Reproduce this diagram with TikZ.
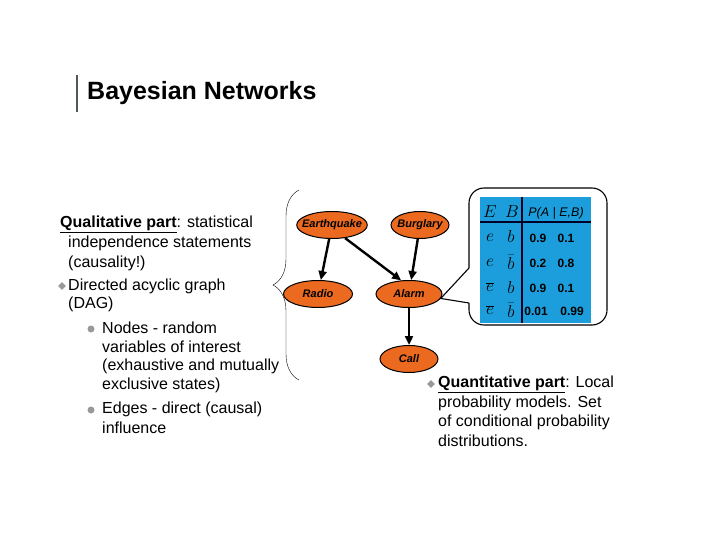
\documentclass[tikz,border=0pt]{standalone}
\usepackage{fontspec}
\setmainfont{Liberation Sans}
\usetikzlibrary{shapes.geometric, arrows.meta, decorations.pathreplacing}
\definecolor{netorange}{RGB}{236,106,32}
\definecolor{cptblue}{RGB}{28,158,220}
\definecolor{barcol}{RGB}{80,90,85}

\begin{document}
\begin{tikzpicture}[x=1pt, y=-1pt,
    var/.style={ellipse, draw=black, line width=1pt, fill=netorange, inner xsep=-5pt, inner ysep=0pt, minimum height=27pt, font=\bfseries\itshape\fontsize{11}{13}\selectfont},
    edge/.style={-{Triangle[length=9pt,width=8pt]}, line width=2.4pt},
    line/.style={anchor=west, inner sep=0pt, font=\fontsize{16}{19}\selectfont},
    cell/.style={inner sep=0pt, font=\fontsize{17}{19}\selectfont},
    num/.style={inner sep=0pt, font=\bfseries\fontsize{12}{14}\selectfont},
    dot/.style={circle, fill=gray!80, inner sep=0pt, minimum size=7pt},
    tick/.style={diamond, fill=gray!80, inner sep=0pt, minimum size=8pt}]
        \useasboundingbox (0,0) rectangle (720,540);
        \draw[barcol, line width=2.5pt] (77,75) -- (77,112);
        \node[anchor=west, inner sep=0pt, font=\bfseries\fontsize{25}{28}\selectfont] (title) at (87,93) {Bayesian Networks};

        % left text
        \node[line] (q1) at (60,224) {\underline{\textbf{Qualitative part}}: statistical};
        \node[line] (q2) at (68,243) {independence statements};
        \node[line] (q3) at (68,263) {(causality!)};
        \node[tick] (b1) at (62,286) {}; \node[line] (d1) at (68,286) {Directed acyclic graph};
        \node[line] (d2) at (68,304) {(DAG)};
        \node[dot] (b2) at (91,329) {}; \node[line] (n1) at (102,328) {Nodes - random};
        \node[line] (n2) at (102,347) {variables of interest};
        \node[line] (n3) at (102,366) {(exhaustive and mutually};
        \node[line] (n4) at (102,385) {exclusive states)};
        \node[dot] (b3) at (91,410) {}; \node[line] (e1) at (102,409) {Edges - direct (causal)};
        \node[line] (e2) at (102,428) {influence};

        % brace
        \coordinate (bracebot) at (299,380); \coordinate (bracetop) at (299,190);
        \draw[thin, decorate, decoration={brace, amplitude=26pt}] (bracebot) -- (bracetop);

        % callout and table
        \fill[cptblue] (480,197) rectangle (591,323);
        \draw[line width=1.5pt, black!85!blue] (522,197) -- (522,323);
        \draw[line width=1.5pt, black!85!blue] (480,222) -- (591,222);
        \draw[line width=1.1pt, rounded corners=15pt] (469,268) -- (469,188) -- (607,188) -- (607,325) -- (469,325) -- (469,303);

        % network
        \node[var, minimum width=70pt] (eq) at (332,225) {Earthquake};
        \node[var, minimum width=58pt] (bu) at (420,225) {Burglary};
        \node[var, minimum width=69pt] (ra) at (318,294) {Radio};
        \node[var, minimum width=66pt] (al) at (409,294) {Alarm};
        \node[var, minimum width=58pt] (ca) at (409,359) {Call};
        \draw[edge] (eq) -- (ra);
        \draw[edge] (eq.-45) -- (al.120);
        \draw[edge] (bu) -- (al);
        \draw[edge] (al) -- (ca);
        \draw[line width=1.1pt] (469,268) -- (al.-8) -- (469,303);

        % table cells
        \node[cell] (hE) at (490,212) {$E$}; \node[cell] (hB) at (512,212) {$B$};
        \node[inner sep=0pt, font=\itshape\fontsize{12.5}{14}\selectfont] (hP) at (556,213) {P(A | E,B)};
        \node[cell] (r1e) at (490,238) {$e$}; \node[cell] (r1b) at (511,237) {$b$};
        \node[num] (r1p) at (538,238) {0.9}; \node[num] (r1q) at (566,238) {0.1};
        \node[cell] (r2e) at (490,263) {$e$}; \node[cell] (r2b) at (511,262) {$\bar{b}$};
        \node[num] (r2p) at (538,263) {0.2}; \node[num] (r2q) at (566,263) {0.8};
        \node[cell] (r3e) at (490,287) {$\overline{e}$}; \node[cell] (r3b) at (511,287) {$b$};
        \node[num] (r3p) at (538,288) {0.9}; \node[num] (r3q) at (566,288) {0.1};
        \node[cell] (r4e) at (490,310) {$\overline{e}$}; \node[cell] (r4b) at (511,310) {$\bar{b}$};
        \node[num] (r4p) at (536,311) {0.01}; \node[num] (r4q) at (572,311) {0.99};

        % right text
        \node[tick] (b4) at (431,384) {}; \node[line] (t1) at (438,384) {\underline{\textbf{Quantitative part}}: Local};
        \node[line] (t2) at (438,403) {probability models. Set};
        \node[line] (t3) at (438,422) {of conditional probability};
        \node[line] (t4) at (438,441) {distributions.};
    \end{tikzpicture}
\end{document}
